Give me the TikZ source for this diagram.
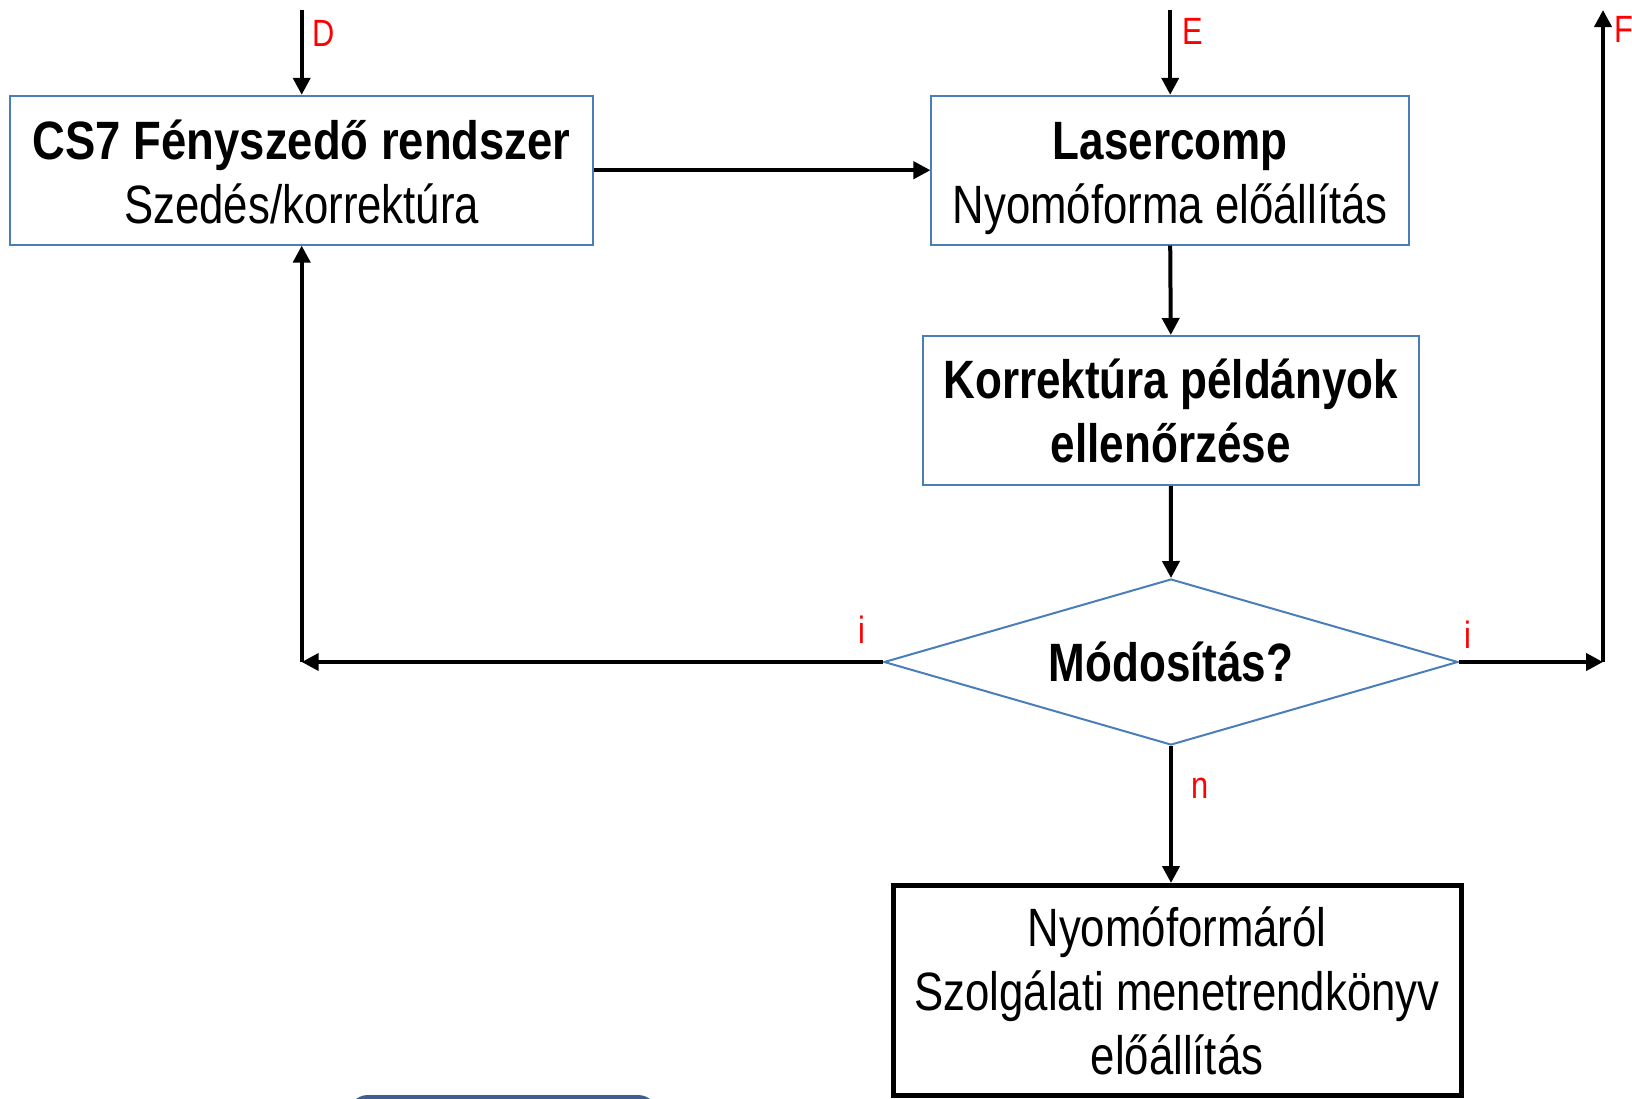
\documentclass[tikz,border=0pt]{standalone}
\usepackage{fontspec}
\usepackage{graphicx}
\setmainfont{Liberation Sans}[FakeStretch=0.81,BoldFeatures={FakeStretch=0.815}]
\usetikzlibrary{arrows.meta,shapes.geometric}
\definecolor{boxblue}{RGB}{74,126,187}
\definecolor{sliver}{RGB}{62,96,140}
\newcommand{\tallstrut}{\rule{0pt}{0.98em}}
\newcommand{\midstrut}{\rule{0pt}{0.79em}}
\tikzset{
  bluebox/.style={draw=boxblue, line width=2pt, fill=white, align=center, inner sep=0pt,
    font=\fontsize{54}{64}\selectfont},
  blackbox/.style={draw=black, line width=5pt, fill=white, align=center, inner sep=0pt,
    font=\fontsize{54}{64}\selectfont},
  arr/.style={line width=4pt, -{Triangle[width=17pt,length=17pt]}},
  lab/.style={text=red, inner sep=0pt, font=\fontsize{38}{40}\selectfont},
}
\begin{document}
\begin{tikzpicture}[x=1pt,y=-1pt]
\useasboundingbox (0,0) rectangle (1632,1098);
\clip (0,0) rectangle (1632,1098);
\fill[white] (0,0) rectangle (1632,1098);

\node[bluebox, minimum width=582.6pt, minimum height=148.8pt] (b1) at (301.7,170.2)
  {\midstrut\scalebox{1.032}[1]{\textbf{CS7 Fényszedő rendszer}}\\Szedés/korrektúra};
\node[bluebox, minimum width=477.5pt, minimum height=148.8pt] (b2) at (1170.2,170.2)
  {\tallstrut\textbf{Lasercomp}\\Nyomóforma előállítás};
\node[bluebox, minimum width=495.6pt, minimum height=149pt] (b3) at (1170.8,410.5)
  {\textbf{Korrektúra példányok}\\\textbf{ellenőrzése}};
\node[diamond, draw=boxblue, line width=2pt, fill=white, inner sep=0pt,
  minimum width=574pt, minimum height=166pt, shape aspect=3.46,
  font=\fontsize{54}{64}\selectfont\bfseries] (dia) at (1171,662) {Módosítás?};
\node[blackbox, minimum width=568pt, minimum height=210pt] (b4) at (1177,990.5)
  {Nyomóformáról\\Szolgálati menetrendkönyv\\előállítás};

\coordinate (dtop) at (301.7,10);
\coordinate (etop) at (1170.2,10);
\coordinate (ftop) at (1603,10);
\coordinate (cl) at (301.7,662);
\coordinate (cr) at (1603,662);

\draw[arr] (dtop) -- (b1.north);
\draw[arr] (etop) -- (b2.north);
\draw[arr] (b1.east) -- (b2.west);
\draw[arr] (b2.south) -- (b3.north);
\draw[arr] (b3.south) -- (dia.north);
\draw[arr] (dia.west) -- (cl);
\draw[arr] (cl) -- (b1.south);
\draw[arr] (dia.east) -- (cr);
\draw[arr] (cr) -- (ftop);
\draw[arr] (dia.south) -- (dia.south |- b4.north);

\node[lab] (ld) at (324,33) {D};
\node[lab] (le) at (1193,31) {E};
\node[lab] (lf) at (1624,29) {F};
\node[lab] (li1) at (862,630) {i};
\node[lab] (li2) at (1468,635) {i};
\node[lab] (ln) at (1200,788) {n};

\fill[sliver, rounded corners=20pt] (348,1095) rectangle (658,1160);
\end{tikzpicture}
\end{document}
